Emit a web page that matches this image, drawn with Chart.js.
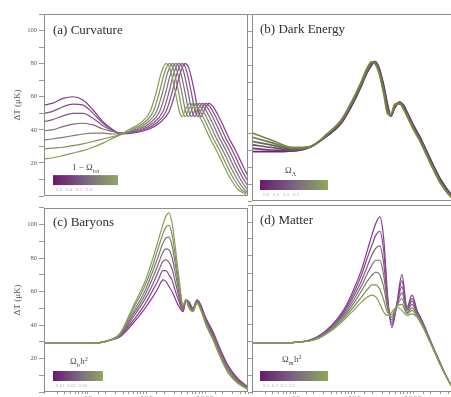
<!DOCTYPE html>
<html><head><meta charset="utf-8">
<script src="https://cdn.jsdelivr.net/npm/chart.js@4/dist/chart.umd.min.js"></script>
<style>
html,body{margin:0;padding:0;background:#fff;}
body{width:451px;height:397px;overflow:hidden;position:relative;}
canvas{position:absolute;}
</style></head><body>
<canvas id="ca" width="250" height="202" style="left:0;top:0;width:250px;height:202px"></canvas>
<canvas id="cb" width="210" height="202" style="left:248px;top:0;width:210px;height:202px"></canvas>
<canvas id="cc" width="250" height="215" style="left:0;top:202px;width:250px;height:215px"></canvas>
<canvas id="cd" width="210" height="215" style="left:248px;top:202px;width:210px;height:215px"></canvas>
<script>
// ---------- data ----------
const xTickValues = [10, 100, 1000];
const yTickValues = [20, 40, 60, 80, 100];

// (a) Curvature: purple (k0) -> green (k6)
const curvatureL = [
 [1.77,2.43,3.74,5.54,8.21,12.2,18.0,26.7,35.2,111,164,243,307,375,455,533,650,760,857,1001,1173,1374,1607,1958,2576,3394,4473,5890,7757,10627],
 [1.77,2.43,3.74,5.54,8.21,12.2,18.0,26.7,35.2,98,145,215,271,331,402,471,573,671,757,884,1035,1212,1418,1728,2273,2994,3947,5197,6844,9377],
 [1.77,2.43,3.74,5.54,8.21,12.2,18.0,26.7,35.2,86,128,190,239,292,355,416,506,592,668,780,914,1070,1252,1525,2007,2643,3484,4587,6042,8278],
 [1.77,2.43,3.74,5.54,8.21,12.2,18.0,26.7,35.2,76,113,167,211,258,313,367,447,522,589,688,806,944,1104,1346,1771,2332,3074,4048,5331,7304],
 [1.77,2.43,3.74,5.54,8.21,12.2,18.0,26.7,35.2,67,99,148,186,227,276,324,394,461,520,607,711,833,975,1188,1563,2058,2713,3572,4705,6446],
 [1.77,2.43,3.74,5.54,8.21,12.2,18.0,26.7,35.2,59,88,130,164,201,244,286,348,407,459,536,628,735,860,1048,1379,1816,2394,3152,4151,5688],
 [1.77,2.43,3.74,5.54,8.21,12.2,18.0,26.7,35.2,52.2,77.4,115,145,177,215,252,307,359,405,473,554,649,759,925,1217,1603,2113,2782,3664,5020]
];
const curvatureT = [
 [55,56,59,60,58,52,45,40,37.5,40.5,44,51,62,74,80,77,64,52,48,53,56,54,50,44,35,27,18,10,4,1],
 [50,51,54,55.5,55,50,44,40,38,40.5,44,51,62,74,80,77,64,52,48,53,56,54,50,44,35,27,18,10,4,1],
 [45,46,48.5,50,50,47,42.5,39.5,38,40.5,44,51,62,74,80,77,64,52,48,53,56,54,50,44,35,27,18,10,4,1],
 [39.5,40,42,43.5,44,43,40.5,39,38,40.5,44,51,62,74,80,77,64,52,48,53,56,54,50,44,35,27,18,10,4,1],
 [34,34.5,35.5,36.5,37.5,38,38,37.5,37.5,40.5,44,51,62,74,80,77,64,52,48,53,56,54,50,44,35,27,18,10,4,1],
 [28.5,29,29.5,30.5,31.5,33,34.5,36,37,40.5,44,51,62,74,80,77,64,52,48,53,56,54,50,44,35,27,18,10,4,1],
 [22.5,23,24.5,26,27.5,29.5,32,35,37,40.5,44,51,62,74,80,77,64,52,48,53,56,54,50,44,35,27,18,10,4,1]
];

// (b) Dark energy
const darkEnergyL = [1.8,3.7,8.8,18,33,60,96,132,161,197,221,259,316,371,418,490,597,700,800,1040,1300,1730,2300,2930,4900,5430];
const darkEnergyT = [
 [29,29,29.5,32,38,46,58,68,75,80,82,79,68,56,50,55,58,56,52,44,38,29,20,13,2,0.5],
 [31,30,29.5,32,38,46,58.5,68.5,75.5,80.5,82,78.5,67,55,50,55.5,58,55.5,51.5,43.5,37.5,28.5,19.5,12.5,2,0.5],
 [33,31.5,30,32,38.5,47,59,69,76,81,82,78,66,54,50,56,58,55,51,43,37,28,19,12,2,0.5],
 [35,33,30.5,32,38.5,47,59.5,69.5,76.5,81,81.5,77.5,65,53,50,56,57.5,54.5,50.5,42.5,36.5,27.5,18.5,11.5,1.5,0.5],
 [37.5,34.5,31,32,39,47.5,60,70,77,81.5,81.5,77,64,52,50.5,56.5,57.5,54,50,42,36,27,18,11,1.5,0.5],
 [40,36,31.5,32,39,48,60.5,70.5,77.5,82,81,76,63,51,51,57,57,53.5,49.5,41.5,35.5,26.5,17.5,10.5,1,0.5]
];

// (c) Baryons
const baryonL = [1.77,4.92,10.8,16.0,23.8,35.2,58.7,94.2,129,157,191,215,242,273,307,359,421,473,532,623,729,822,1040,1371,1804,2471,3664,5430];
const baryonT = [
 [29,29,29,29.5,31,33,41,50,57,62,67,66,63,60,56,51,48,55,54,50,55,53,44,36,26,16,8,3],
 [29,29,29,29.5,31,33.5,42.5,52.5,61,66.5,72.5,72.5,70,67,61,54,48.5,55,53.5,49.5,54.5,52.5,43.5,35,25,15.5,7.5,3],
 [29,29,29,29.5,31,33.5,44.5,55.5,64.5,71.5,78,79,77.5,73.5,66.5,56.5,49.5,55,52.5,49.5,54.5,52,42.5,34.5,24.5,15,7,2.5],
 [29,29,29,29.5,31,34,46,58,68.5,76,83.5,85.5,85,80.5,72,59.5,50,55,52,49,54,51.5,42,33.5,23.5,14,6.5,2.5],
 [29,29,29,29.5,31,34.5,47.5,60.5,72.5,80.5,89,92,92.5,87.5,77.5,62.5,50.5,55,51.5,48.5,53.5,51,41.5,32.5,23,13,6,2],
 [29,29,29,29.5,31,34.5,49.5,63.5,76,85.5,94.5,98.5,99.5,94,82.5,65,51.5,55,50.5,48.5,53.5,50.5,40.5,32,22,12,5.5,2],
 [29,29,29,29.5,31,35,51,66,80,90,100,105,107,101,88,68,52,55,50,48,53,50,40,31,21,11.5,5,1.5]
];

// (d) Matter
const matterL = [1.82,5.51,12.2,22.1,40.1,64.6,96.1,132,168,197,230,270,316,371,434,530,646,788,962,1173,1430,1743,2300,2921,3857,4898,5970];
const matterT = [
 [29,29,29.5,32,39,48,60,72,84,92,99,103,90,55,38,52,69,50,57,48,42,35,25,17,8,2,0],
 [29,29,29.5,32,38.5,47,58,69,79.5,86,92,94.5,83,53.5,39.5,51.5,65.5,49,55,47.5,41.5,34.5,25,17,8,2,0],
 [29,29,29.5,31.5,38,46,56,65.5,74.5,80.5,84.5,86,75.5,51.5,41,51.5,62,48.5,53.5,46.5,41,34.5,24.5,16.5,8,2,0],
 [29,29,29.5,31.5,37.5,45,54,62.5,70,74.5,77.5,77.5,68.5,50,42.5,51,58.5,47.5,51.5,46,40.5,34,24.5,16.5,8,2,0],
 [29,29,29.5,31.5,37,44,52,59.5,65.5,68.5,70.5,69,61.5,48.5,44,50.5,55,46.5,49.5,45.5,40,33.5,24.5,16.5,8,2,0],
 [29,29,29.5,31,36.5,43,50,56,60.5,63,63,60.5,54,46.5,45.5,50.5,51.5,46,48,44.5,39.5,33.5,24,16,8,2,0],
 [29,29,29.5,31,36,42,48,53,56,57,56,52,47,45,47,50,48,45,46,44,39,33,24,16,8,2,0]
];

// ---------- styling helpers ----------
const SERIF = "'Liberation Serif','DejaVu Serif',serif";
function mix(a,b,t){return a.map((v,i)=>Math.round(v+(b[i]-v)*t));}
function curveColor(t, dark){
  const P = dark?[105,40,110]:[135,55,145], M = dark?[105,92,95]:[128,105,125], G = dark?[115,135,70]:[132,158,82];
  const c = t<0.5 ? mix(P,M,t*2) : mix(M,G,(t-0.5)*2);
  return `rgb(${c[0]},${c[1]},${c[2]})`;
}
function makeDatasets(Ls, Ts, shared, width, dark){
  const n = Ts.length, ds=[];
  for(let k=n-1;k>=0;k--){
    const L = shared ? Ls : Ls[k];
    ds.push({
      data: L.map((x,i)=>({x:x,y:Ts[k][i]})),
      borderColor: curveColor(k/(n-1), dark),
      borderWidth: width, pointRadius:0, fill:false,
      cubicInterpolationMode:'monotone'
    });
  }
  return ds;
}
function richText(ctx, parts, x, y, size){
  let cx=x;
  for(const p of parts){
    const s = (p.sub||p.sup)? size*0.68 : size;
    ctx.font = `${s}px ${SERIF}`;
    const dy = p.sub? size*0.3 : (p.sup? -size*0.38 : 0);
    ctx.fillText(p.t, cx, y+dy);
    cx += ctx.measureText(p.t).width + (p.sub||p.sup?0.5:0);
  }
}
const deco = {
  id:'deco',
  afterDatasetsDraw(chart, args, o){
    const ctx=chart.ctx, a=chart.chartArea;
    ctx.save();
    ctx.strokeStyle='#8c8c8c'; ctx.lineWidth=1;
    ctx.strokeRect(Math.round(a.left)+0.5, Math.round(a.top)+0.5, Math.round(a.right-a.left)-1, Math.round(a.bottom-a.top)-1);
    ctx.fillStyle='#2e2e2e'; ctx.textBaseline='alphabetic'; ctx.textAlign='left';
    ctx.font = `13px ${SERIF}`;
    ctx.fillText(o.title, a.left+o.tx, a.top+o.ty);
    const bx=a.left+o.bx, by=a.bottom-o.bb, bw=o.bw, bh=10;
    const g=ctx.createLinearGradient(bx,0,bx+bw,0);
    g.addColorStop(0,'#6a1a6c'); g.addColorStop(0.5,'#7a6484'); g.addColorStop(1,'#90a85e');
    ctx.fillStyle=g; ctx.fillRect(bx,by,bw,bh);
    ctx.fillStyle='#444';
    richText(ctx, o.label, bx+o.lx, by-o.ly, 9);
    ctx.fillStyle='#c9a3d2'; ctx.font=`5px ${SERIF}`;
    ctx.fillText(o.vals, bx+3, by+bh+5.5);
    ctx.restore();
  }
};
function isTick(v){return xTickValues.some(t=>Math.abs(v-t)<1e-6*t);}
function xAxis(bottom){
  return {
    type:'logarithmic', min:1.77, max:5430, display: bottom,
    afterFit(s){ if(bottom) s.height=25; },
    ticks:{autoSkip:false, maxRotation:0, padding:0, color:'#777',
      font:{size:9,family:SERIF}, callback:(v)=> isTick(v)? String(v):''},
    grid:{drawOnChartArea:false, drawTicks:true, tickLength:2, color:'#999'},
    border:{display:false}
  };
}
function yAxis(left){
  return {
    type:'linear', min:0, max:110,
    afterFit(s){ s.width = left?44:4; },
    ticks:{display:left, stepSize:10, autoSkip:false, padding:2, color:'#555',
      font:{size:6.5,family:SERIF},
      callback:(v)=> yTickValues.includes(v)? String(v):''},
    grid:{drawOnChartArea:false, drawTicks:true, tickLength:5, color:'#999'},
    border:{display:false},
    title:{display:left, text:'ΔT (μK)', color:'#555', font:{size:9,family:SERIF}, padding:{top:12,bottom:0}}
  };
}
function panel(id, datasets, left, bottom, padTop, d){
  return new Chart(document.getElementById(id), {
    type:'line',
    data:{datasets},
    options:{
      responsive:false, animation:false, events:[],
      layout:{padding:{top:padTop,right:2,bottom: bottom?0:1,left:0}},
      scales:{x:xAxis(bottom), y:yAxis(left)},
      plugins:{legend:{display:false}, tooltip:{enabled:false}, deco:d}
    },
    plugins:[deco]
  });
}

panel('ca', makeDatasets(curvatureL, curvatureT, false, 1.2, false), true, false, 14,
  {title:'(a) Curvature', tx:9, ty:20, bx:9, bb:21, bw:65, lx:19, ly:5,
   label:[{t:'1 − Ω'},{t:'tot',sub:true}], vals:'0.6   0.4   0.2   0.0'});
panel('cb', makeDatasets(darkEnergyL, darkEnergyT, true, 1.7, true), false, false, 14,
  {title:'(b) Dark Energy', tx:8, ty:19, bx:8, bb:21, bw:68, lx:25, ly:7,
   label:[{t:'Ω'},{t:'Λ',sub:true}], vals:'0.0   0.3   0.5   0.7'});
panel('cc', makeDatasets(baryonL, baryonT, true, 1.2, false), true, true, 3,
  {title:'(c) Baryons', tx:9, ty:18, bx:9, bb:21, bw:50, lx:17, ly:7,
   label:[{t:'Ω'},{t:'b',sub:true},{t:'h'},{t:'2',sup:true}], vals:'0.01  0.02  0.03'});
panel('cd', makeDatasets(matterL, matterT, true, 1.2, false), false, true, 3,
  {title:'(d) Matter', tx:8, ty:19, bx:8, bb:21, bw:68, lx:22, ly:9,
   label:[{t:'Ω'},{t:'m',sub:true},{t:'h'},{t:'2',sup:true}], vals:'0.1  0.2  0.3  0.5'});
</script>
</body></html>
